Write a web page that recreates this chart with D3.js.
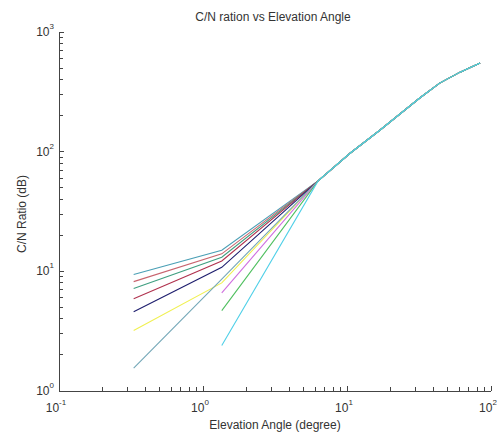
<!DOCTYPE html>
<html><head><meta charset="utf-8">
<script src="https://cdn.jsdelivr.net/npm/d3@7"></script>
<style>body{margin:0;background:#fff}svg{display:block}</style>
</head><body>
<svg id="c" width="497" height="437"></svg>
<script>
// ---- data ----
const elevation = [0.33, 1.35, 6.3, 10.5, 16.9, 32, 44, 61, 84];
const tail = [57, 97, 151, 281, 374, 462, 550];
const s1 = [9.4, 15.0].concat(tail);
const s2 = [8.2, 14.0].concat(tail);
const s3 = [7.2, 13.1].concat(tail);
const s4 = [5.9, 12.2].concat(tail);
const s5 = [4.6, 10.8].concat(tail);
const s6 = [3.2, 8.0].concat(tail);
const s7 = [1.55, 8.6].concat(tail);
const s8 = [null, 6.6].concat(tail);
const s9 = [null, 4.7].concat(tail);
const s10 = [null, 2.4].concat(tail);
const seriesValues = [s1, s2, s3, s4, s5, s6, s7, s8, s9, s10];
const seriesColors = ["#4a9fb5", "#c8646e", "#3f9f80", "#b0324e", "#1e1e6e",
                      "#f0f050", "#74a8b8", "#d070e0", "#50c060", "#50d0e8"];
const xTicks = [0.1, 1, 10, 100];
const yTicks = [1, 10, 100, 1000];
const title = "C/N ration vs Elevation Angle";
const xLabel = "Elevation Angle (degree)";
const yLabel = "C/N Ratio (dB)";

// ---- chart ----
const svg = d3.select("#c");
const font = "'Liberation Sans', Arial, sans-serif";
const x = d3.scaleLog().domain([0.1, 100]).range([59, 491]);
const y = d3.scaleLog().domain([1, 1000]).range([391, 32]);
const axisColor = "#444";
const textColor = "#333";

function minors(dom) {
  const out = [];
  for (let d = dom[0]; d < dom[1]; d *= 10) for (let k = 2; k <= 9; k++) out.push(d * k);
  return out;
}

// lines
const line = d3.line()
  .defined(d => d[1] != null)
  .x(d => x(d[0])).y(d => y(d[1]));
seriesValues.forEach((vals, i) => {
  svg.append("path")
    .datum(elevation.map((e, j) => [e, vals[j]]))
    .attr("d", line)
    .attr("fill", "none")
    .attr("stroke", seriesColors[i])
    .attr("stroke-width", 1.1);
});

// axes lines
const g = svg.append("g").attr("stroke", axisColor).attr("stroke-width", 1).attr("shape-rendering", "crispEdges");
g.append("line").attr("x1", x(0.1)).attr("x2", x(100)).attr("y1", y(1)).attr("y2", y(1));
g.append("line").attr("x1", x(0.1)).attr("x2", x(0.1)).attr("y1", y(1)).attr("y2", y(1000));
// x ticks (inward)
xTicks.forEach(t => g.append("line").attr("x1", x(t)).attr("x2", x(t)).attr("y1", y(1)).attr("y2", y(1) - 5));
minors(x.domain()).forEach(t => g.append("line").attr("x1", x(t)).attr("x2", x(t)).attr("y1", y(1)).attr("y2", y(1) - 4));
// y ticks (inward)
yTicks.forEach(t => g.append("line").attr("x1", x(0.1)).attr("x2", x(0.1) + 5).attr("y1", y(t)).attr("y2", y(t)));
minors(y.domain()).forEach(t => g.append("line").attr("x1", x(0.1)).attr("x2", x(0.1) + 4).attr("y1", y(t)).attr("y2", y(t)));

// tick labels
function expLabel(sel, t) {
  const e = Math.round(Math.log10(t));
  sel.append("tspan").text("10");
  sel.append("tspan").attr("dy", -7).attr("font-size", 8).text(String(e));
}
xTicks.forEach(t => {
  const tx = svg.append("text").attr("x", x(t) - 3).attr("y", 412)
    .attr("text-anchor", "middle").attr("font-family", font).attr("font-size", 12).attr("fill", textColor);
  expLabel(tx, t);
});
yTicks.forEach(t => {
  const tx = svg.append("text").attr("x", 54).attr("y", y(t) + 4)
    .attr("text-anchor", "end").attr("font-family", font).attr("font-size", 12).attr("fill", textColor);
  expLabel(tx, t);
});

// titles
svg.append("text").attr("x", 273).attr("y", 21).attr("text-anchor", "middle")
  .attr("font-family", font).attr("font-size", 12).attr("fill", textColor).text(title);
svg.append("text").attr("x", 275).attr("y", 429).attr("text-anchor", "middle")
  .attr("font-family", font).attr("font-size", 12).attr("fill", textColor).text(xLabel);
svg.append("text").attr("transform", "translate(26,214) rotate(-90)").attr("text-anchor", "middle")
  .attr("font-family", font).attr("font-size", 12).attr("fill", textColor).text(yLabel);
</script>
</body></html>
